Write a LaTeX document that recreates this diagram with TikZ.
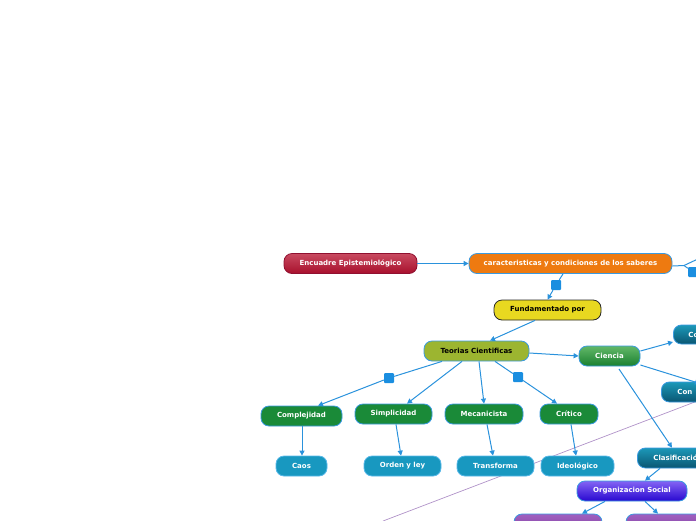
\documentclass[tikz,border=0pt]{standalone}
\usepackage{fontspec}
\setmainfont{DejaVu Sans}
\usetikzlibrary{arrows.meta,shapes.misc}
\definecolor{lnk}{HTML}{2A92DC}
\definecolor{bord}{HTML}{3A9AE0}
\definecolor{sq}{HTML}{1A8EE0}
\definecolor{grn}{HTML}{1A8A38}
\definecolor{teal}{HTML}{1898C0}
\definecolor{purp}{HTML}{B092C8}
\definecolor{redB}{HTML}{901030}
\definecolor{redT}{HTML}{C84A60}
\definecolor{redD}{HTML}{A8102C}
\definecolor{orng}{HTML}{EE7A10}
\definecolor{yell}{HTML}{E8D820}
\definecolor{olive}{HTML}{9CB530}
\definecolor{cieT}{HTML}{62B868}
\definecolor{cieD}{HTML}{1A8030}
\definecolor{tealB}{HTML}{58B8E8}
\definecolor{dkT}{HTML}{1C98B8}
\definecolor{dkD}{HTML}{0A5672}
\definecolor{orgT}{HTML}{8464F4}
\definecolor{orgD}{HTML}{2808D0}
\definecolor{purT}{HTML}{A060C0}
\definecolor{purD}{HTML}{8040A0}
\tikzset{
  base/.style={rounded corners=8pt, draw=bord, line width=0.8pt, inner sep=0pt,
     minimum height=20pt, font=\bfseries\fontsize{7}{8}\selectfont, text=white},
  redbox/.style={base, draw=redB, top color=redT, bottom color=redD},
  orgbox/.style={base, fill=orng},
  yelbox/.style={base, draw=black!85, fill=yell, text=black},
  olvbox/.style={base, fill=olive, text=black},
  cienbox/.style={base, top color=cieT, bottom color=cieD},
  grnbox/.style={base, fill=grn},
  tealbox/.style={base, draw=tealB, fill=teal},
  dkbox/.style={base, top color=dkT, bottom color=dkD, text width=90pt, align=left, inner xsep=16pt},
  orgsbox/.style={base, top color=orgT, bottom color=orgD},
  purbox/.style={base, top color=purT, bottom color=purD},
  sqbox/.style={fill=sq, rounded corners=1pt, minimum size=10pt, inner sep=0pt},
  conn/.style={draw=lnk, line width=1pt, -{Triangle[length=5pt,width=5pt]}},
  plain/.style={draw=lnk, line width=1pt},
}
\begin{document}
\begin{tikzpicture}[x=1pt,y=-1pt]
\useasboundingbox (0,0) rectangle (696,520);
% purple thin line
\coordinate (pl1) at (383,521);
\coordinate (pl2) at (700,400);
\draw[purp, line width=0.7pt] (pl1) -- (pl2);

\node[redbox, minimum width=133pt] (enc) at (350.5,263.5) {Encuadre Epistemiológico};
\node[orgbox, minimum width=203pt] (car) at (570.5,263.5) {caracteristicas y condiciones de los saberes};
\node[yelbox, minimum width=107pt] (fun) at (547.5,310) {Fundamentado por};
\node[olvbox, minimum width=105pt] (teo) at (476.5,351) {Teorias Cientificas};
\node[cienbox, minimum width=61pt] (cie) at (609.5,356) {Ciencia};

\node[dkbox, anchor=west, minimum height=19pt, inner xsep=15pt] (co) at (673,334.5) {Co};
\node[dkbox, anchor=west] (con) at (661,392) {Con};
\node[dkbox, anchor=west] (cla) at (637,458) {Clasificación};
\node[orgsbox, minimum width=110pt] (org) at (632,491) {Organizacion Social};
\node[purbox, minimum width=88pt] (p1) at (558,524) {};
\node[purbox, minimum width=90pt] (p2) at (671,524) {};

\node[grnbox, minimum width=81pt] (com) at (301.5,416) {Complejidad};
\node[grnbox, minimum width=77pt] (sim) at (393.5,414) {Simplicidad};
\node[grnbox, minimum width=78pt] (mec) at (484,414) {Mecanicista};
\node[grnbox, minimum width=58pt] (cri) at (569,414) {Crítico};

\node[tealbox, minimum width=51pt] (cao) at (301.5,466) {Caos};
\node[tealbox, minimum width=77pt] (ord) at (402.5,466) {Orden y ley};
\node[tealbox, minimum width=77pt] (tra) at (495.5,466) {Transforma};
\node[tealbox, minimum width=73pt] (ide) at (577.5,466) {Ideológico};

\node[sqbox] (s1) at (556,285) {};
\node[sqbox] (s2) at (389,378) {};
\node[sqbox] (s3) at (518,377) {};
\node[sqbox] (s4) at (693,272) {};
\coordinate (rj) at (684,265.5);
\coordinate (roff) at (700,258);

\draw[conn] (enc.east) -- (car.west);
\draw[plain] (car.south -| 563,0) -- (s1);
\draw[conn] (s1) -- (fun.north);
\draw[plain] (car.east |- 0,266) -- (rj) -- (roff);
\draw[plain] (rj) -- (s4);
\draw[conn] (fun.south -| 535,0) -- (teo.north -| 490,0);
\draw[conn] (teo.east |- 0,353) -- (cie.west);
\draw[plain] (teo.south -| 442,0) -- (s2);
\draw[conn] (s2) -- (com.north -| 318,0);
\draw[conn] (teo.south -| 462,0) -- (sim.north -| 407,0);
\draw[conn] (teo.south -| 479,0) -- (mec.north -| 484,0);
\draw[plain] (teo.south -| 495,0) -- (s3);
\draw[conn] (s3) -- (cri.north -| 557,0);
\draw[conn] (cie.east |- 0,351) -- (co.west |- 0,342);
\draw[conn] (cie.east |- 0,365) -- (700,383.5);
\draw[conn] (619,369) -- (cla.north -| 672,0);
\draw[conn] (com.south -| 302,0) -- (cao.north -| 302,0);
\draw[conn] (sim.south -| 396,0) -- (ord.north -| 401,0);
\draw[conn] (mec.south -| 487,0) -- (tra.north -| 493,0);
\draw[conn] (cri.south -| 571,0) -- (ide.north -| 576,0);
\draw[conn] (cla.south -| 660,0) -- (org.north -| 645,0);
\draw[conn] (org.south -| 605,0) -- (p1.north -| 582,0);
\draw[conn] (org.south -| 645,0) -- (p2.north -| 658,0);
\end{tikzpicture}
\end{document}
